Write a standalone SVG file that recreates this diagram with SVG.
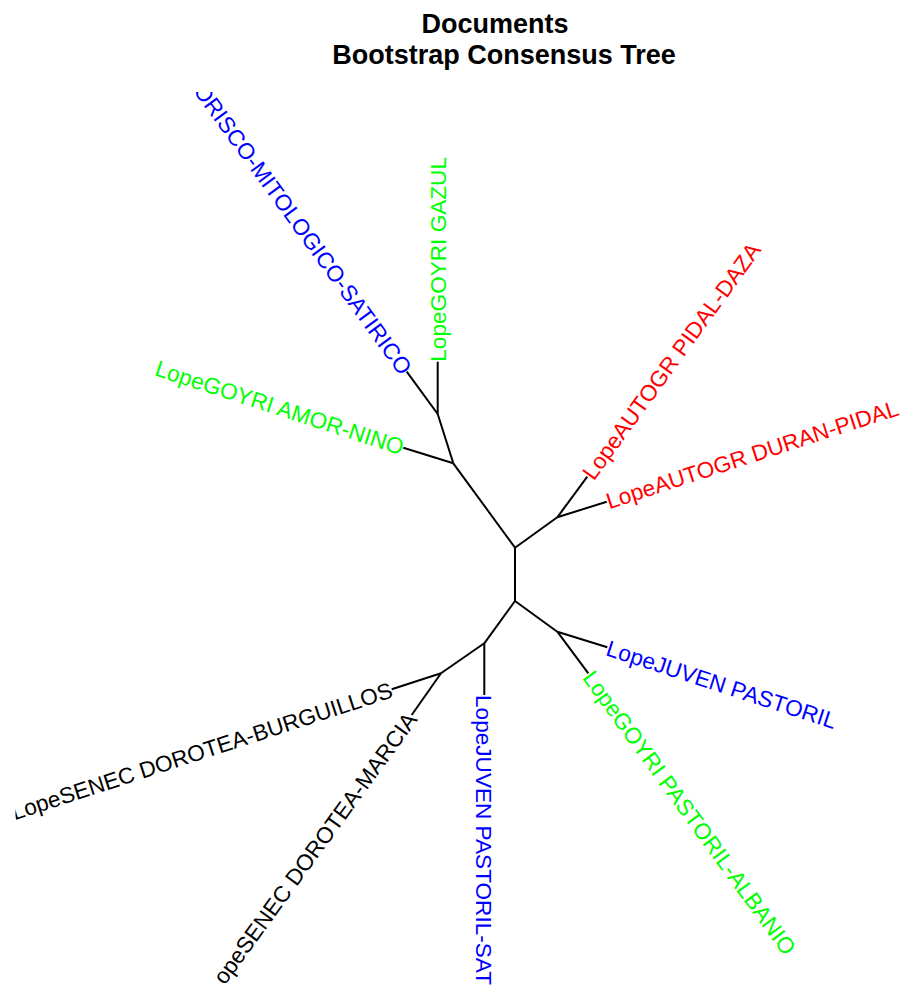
<svg xmlns="http://www.w3.org/2000/svg" width="901" height="987" viewBox="0 0 901 987">
<style>
.title{font-family:"Liberation Sans",Arial,sans-serif;font-weight:bold;font-size:27px;fill:#000;text-anchor:middle}
.lab{font-family:"Liberation Sans",Arial,sans-serif;font-size:22.6px}
.s{text-anchor:start}
.e{text-anchor:end}
.red{fill:#FF0000}
.grn{fill:#00FF00}
.blu{fill:#0000FF}
.blk{fill:#000000}
.edges line{stroke:#000;stroke-width:2;stroke-linecap:butt}
</style>
<defs>
<clipPath id="plotclip"><rect x="15.5" y="92" width="885.5" height="895"/></clipPath>
</defs>
<rect width="901" height="987" fill="#fff"/>
<g id="title">
<text class="title" x="495" y="33">Documents</text>
<text class="title" x="504" y="64">Bootstrap Consensus Tree</text>
</g>
<g id="connectors" class="edges">
<line x1="515" y1="547.7" x2="515" y2="601"/>
<line x1="515" y1="547.7" x2="453.3" y2="463.3"/>
<line x1="453.3" y1="463.3" x2="437.7" y2="414"/>
<line x1="437.7" y1="414" x2="437.7" y2="361.7"/>
<line x1="437.7" y1="414" x2="406.7" y2="371.7"/>
<line x1="453.3" y1="463.3" x2="403.3" y2="447.7"/>
<line x1="515" y1="547.7" x2="557.3" y2="517.3"/>
<line x1="557.3" y1="517.3" x2="587.3" y2="476.7"/>
<line x1="557.3" y1="517.3" x2="606.7" y2="501.7"/>
<line x1="515" y1="601" x2="557.3" y2="631.7"/>
<line x1="557.3" y1="631.7" x2="607.3" y2="647.3"/>
<line x1="557.3" y1="631.7" x2="588.3" y2="673.3"/>
<line x1="515" y1="601" x2="484.3" y2="643.3"/>
<line x1="484.3" y1="643.3" x2="484.3" y2="695"/>
<line x1="484.3" y1="643.3" x2="441" y2="673.3"/>
<line x1="441" y1="673.3" x2="391.7" y2="689.3"/>
<line x1="441" y1="673.3" x2="411.7" y2="715"/>
</g>
<g clip-path="url(#plotclip)">
<g id="tip-gazul"><text class="lab s grn" transform="translate(437.7,361.7) rotate(-90)" y="8">LopeGOYRI GAZUL</text></g>
<g id="tip-morisco"><text class="lab e blu" transform="translate(406.7,371.7) rotate(54)" y="8">ORISCO-MITOLOGICO-SATIRICO</text></g>
<g id="tip-amor-nino"><text class="lab e grn" transform="translate(403.3,447.7) rotate(18)" y="8">LopeGOYRI AMOR-NINO</text></g>
<g id="tip-pidal-daza"><text class="lab s red" transform="translate(587.3,476.7) rotate(-54)" y="8">LopeAUTOGR PIDAL-DAZA</text></g>
<g id="tip-duran-pidal"><text class="lab s red" transform="translate(606.7,501.7) rotate(-18)" y="8">LopeAUTOGR DURAN-PIDAL</text></g>
<g id="tip-juven-pastoril"><text class="lab s blu" transform="translate(607.3,647.3) rotate(18)" y="8">LopeJUVEN PASTORIL</text></g>
<g id="tip-pastoril-albanio"><text class="lab s grn" transform="translate(588.3,673.3) rotate(54)" y="8">LopeGOYRI PASTORIL-ALBANIO</text></g>
<g id="tip-pastoril-sat"><text class="lab s blu" transform="translate(484.3,695) rotate(90)" y="8">LopeJUVEN PASTORIL-SAT</text></g>
<g id="tip-marcia"><text class="lab e blk" transform="translate(411.7,715) rotate(-54)" y="8">opeSENEC DOROTEA-MARCIA</text></g>
<g id="tip-burguillos"><text class="lab e blk" transform="translate(391.7,689.3) rotate(-18)" y="8">LopeSENEC DOROTEA-BURGUILLOS</text></g>
</g>
</svg>
